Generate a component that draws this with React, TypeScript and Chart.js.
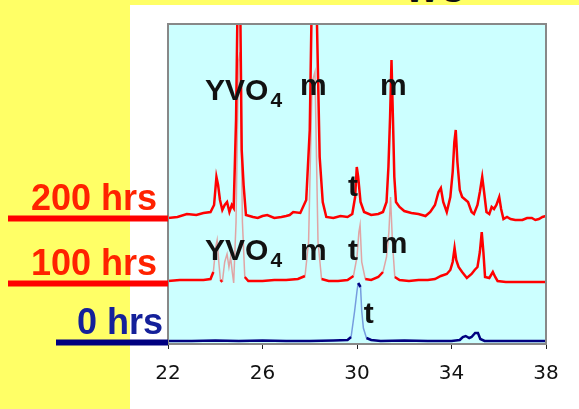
import React, { useEffect, useRef } from "react";
import { Chart, registerables } from "chart.js";
Chart.register(...registerables);

// 2-theta tick labels
const tickValues = [22, 26, 30, 34, 38];

// series names and vertical offsets (stacked display)
const seriesNames = ["200 hrs", "100 hrs", "0 hrs"];
const seriesOffsets = [127, 62, 3];

// 200 hrs pattern
const x200 = [22.0,22.4,22.8,23.2,23.5,23.8,23.95,24.05,24.12,24.2,24.3,24.4,24.5,24.6,24.7,24.78,24.88,24.97,25.03,25.12,25.2,25.3,25.45,25.6,25.8,26.0,26.2,26.5,26.8,27.0,27.15,27.3,27.6,27.85,28.0,28.1,28.2,28.3,28.42,28.55,28.7,29.0,29.3,29.6,29.8,29.92,29.99,30.05,30.15,30.3,30.6,30.9,31.1,31.25,31.33,31.4,31.46,31.52,31.58,31.65,31.8,32.0,32.3,32.6,32.9,33.1,33.3,33.45,33.55,33.65,33.8,33.95,34.05,34.12,34.18,34.25,34.35,34.45,34.55,34.7,34.85,34.95,35.1,35.2,35.3,35.38,35.48,35.6,35.7,35.8,35.9,36.02,36.1,36.2,36.35,36.5,36.7,37.0,37.2,37.4,37.55,37.7,37.85,38.0];
const y200 = [-1,0,3,2,4,5,12,40,32,17,7,12,15,5,12,9,97,260,280,67,32,2,1,0,-1,1,2,-1,0,1,2,5,4,17,87,240,260,200,60,15,0,-1,1,0,3,20,50,40,15,5,2,3,5,15,50,100,157,100,40,15,10,6,4,3,1,5,12,25,29,15,5,20,45,75,87,55,27,20,18,15,5,3,12,25,40,25,5,3,10,8,12,20,8,-2,0,-2,-3,-3,-1,-1,-3,-2,0,1];

// 100 hrs pattern
const x100 = [22.0,22.5,23.0,23.5,23.8,23.92,24.02,24.08,24.15,24.22,24.3,24.4,24.5,24.58,24.65,24.72,24.78,24.88,24.98,25.05,25.15,25.25,25.4,26.0,26.5,27.0,27.5,27.8,27.95,28.1,28.22,28.35,28.5,28.8,29.2,29.6,29.85,30.0,30.08,30.13,30.2,30.35,30.6,30.9,31.1,31.25,31.35,31.42,31.5,31.6,31.8,32.2,32.6,33.0,33.3,33.55,33.8,33.95,34.05,34.13,34.2,34.3,34.45,34.65,34.85,34.98,35.1,35.2,35.28,35.35,35.42,35.6,35.75,35.85,35.95,36.3,36.8,37.3,38.0];
const y100 = [1,2,2,2,3,10,35,42,20,2,0,20,28,15,25,10,-1,60,220,230,60,5,1,1,2,2,3,6,40,200,210,40,3,1,1,2,6,25,50,57,20,3,2,5,10,25,50,85,40,5,2,1,2,2,3,6,8,12,20,34,22,15,10,4,8,12,15,30,50,30,5,4,10,5,1,0,0,0,0];

// 0 hrs pattern
const x0 = [22,23,24,25,26,27,28,29,29.6,29.75,29.9,30.0,30.05,30.15,30.2,30.27,30.4,30.6,31,32,33,34,34.35,34.48,34.6,34.75,34.85,35.0,35.12,35.22,35.4,36,37,38];
const y0 = [0,0,0.5,0,0.5,0,0,0.5,1,4,30,50,58,54,30,13,3,1,0,0.5,0,0,1,4,5,3,4,8,8,2,0,0,0,0];

// peak annotations
const annText = ["YVO", "m", "m", "t", "YVO", "m", "t", "m", "t"];
const annSub = ["4", "", "", "", "4", "", "", "", ""];
const annX = [23.57, 27.59, 30.97, 29.62, 23.57, 27.59, 29.62, 31.0, 30.29];
const annY = [244, 249, 249, 148, 84, 84, 84, 91, 21];

const BOLD = '"Liberation Sans", Arial, sans-serif';

function zip(xs: number[], ys: number[], off: number) {
  return xs.map((x, i) => ({ x, y: ys[i] + off }));
}

function steepStyle(xs: number[], xLimit: number, solid: string, pale: string, wSolid: number, wPale: number) {
  const isSteep = (ctx: any) => {
    const dx = Math.abs(ctx.p1.x - ctx.p0.x);
    const dy = Math.abs(ctx.p1.y - ctx.p0.y);
    return dy > 6 && dy > 2.5 * dx && xs[ctx.p1DataIndex] < xLimit;
  };
  return {
    borderColor: (ctx: any) => (isSteep(ctx) ? pale : solid),
    borderWidth: (ctx: any) => (isSteep(ctx) ? wPale : wSolid),
  };
}

const decor = {
  id: "decor",
  beforeDraw(chart: any) {
    const { ctx, chartArea: a } = chart;
    ctx.save();
    ctx.fillStyle = "#ccffff";
    ctx.fillRect(a.left, a.top, a.right - a.left, a.bottom - a.top);
    ctx.restore();
  },
  afterDraw(chart: any) {
    const { ctx, chartArea: a, scales } = chart;
    const xs = scales.x;
    const ys = scales.y;
    ctx.save();
    ctx.strokeStyle = "#888888";
    ctx.lineWidth = 2;
    ctx.strokeRect(a.left, a.top, a.right - a.left, a.bottom - a.top);

    // series labels with lead lines
    const lineColors = ["#ff0000", "#ff0000", "#000080"];
    const textColors = ["#ff2200", "#ff2200", "#14209a"];
    const lineStart = [8, 8, 56];
    const textRight = [157, 157, 163];
    for (let i = 0; i < seriesNames.length; i++) {
      const yp = ys.getPixelForValue(seriesOffsets[i]) + 1.5;
      ctx.strokeStyle = lineColors[i];
      ctx.lineWidth = 6;
      ctx.beginPath();
      ctx.moveTo(lineStart[i], yp);
      ctx.lineTo(a.left, yp);
      ctx.stroke();
      ctx.fillStyle = textColors[i];
      ctx.font = `bold 36px ${BOLD}`;
      ctx.textAlign = "right";
      ctx.textBaseline = "alphabetic";
      ctx.fillText(seriesNames[i], textRight[i], yp - 9);
    }

    // peak annotations
    ctx.fillStyle = "#111111";
    ctx.textAlign = "left";
    ctx.textBaseline = "alphabetic";
    for (let i = 0; i < annText.length; i++) {
      const px = xs.getPixelForValue(annX[i]);
      const py = ys.getPixelForValue(annY[i]);
      ctx.font = `bold 30px ${BOLD}`;
      ctx.fillText(annText[i], px, py);
      if (annSub[i]) {
        const w = ctx.measureText(annText[i]).width;
        ctx.font = `bold 21px ${BOLD}`;
        ctx.fillText(annSub[i], px + w + 2, py + 7);
      }
    }
    ctx.restore();
  },
};

export default function App() {
  const ref = useRef<HTMLCanvasElement | null>(null);
  useEffect(() => {
    if (!ref.current) return;
    const chart = new Chart(ref.current, {
      type: "line",
      data: {
        datasets: [
          {
            label: seriesNames[0],
            data: zip(x200, y200, seriesOffsets[0]),
            borderColor: "#ff0000",
            borderWidth: 2.5,
            pointRadius: 0,
            tension: 0,
          },
          {
            label: seriesNames[1],
            data: zip(x100, y100, seriesOffsets[1]),
            borderColor: "#ff0000",
            borderWidth: 2.5,
            pointRadius: 0,
            tension: 0,
            segment: steepStyle(x100, 33, "#ff0000", "rgba(240,90,90,0.55)", 2.5, 1.5),
          },
          {
            label: seriesNames[2],
            data: zip(x0, y0, seriesOffsets[2]),
            borderColor: "#000080",
            borderWidth: 2.5,
            pointRadius: 0,
            tension: 0,
            segment: steepStyle(x0, 33, "#000080", "rgba(60,90,200,0.6)", 2.5, 1.5),
          },
        ],
      },
      options: {
        responsive: false,
        animation: false,
        layout: { padding: { left: 168, right: 33, top: 24, bottom: 20 } },
        plugins: { legend: { display: false }, tooltip: { enabled: false } },
        scales: {
          x: {
            type: "linear",
            min: 22,
            max: 38,
            afterBuildTicks: (s: any) => {
              s.ticks = tickValues.map((v) => ({ value: v }));
            },
            afterFit: (s: any) => {
              s.height = 45;
            },
            ticks: {
              color: "#111111",
              font: { family: '"DejaVu Sans", Verdana, sans-serif', size: 20 },
              padding: 13,
              maxRotation: 0,
            },
            grid: {
              drawOnChartArea: false,
              drawTicks: true,
              tickLength: 5,
              color: "#222222",
            },
            border: { display: false },
          },
          y: {
            display: false,
            min: 0,
            max: 320,
          },
        },
      },
      plugins: [decor],
    });
    return () => chart.destroy();
  }, []);

  return (
    <div
      style={{
        position: "fixed",
        left: 0,
        top: 0,
        width: 579,
        height: 409,
        background: "#ffff66",
        overflow: "hidden",
      }}
    >
      <div
        style={{
          position: "absolute",
          left: 405,
          top: -28,
          fontFamily: BOLD,
          fontWeight: "bold",
          fontSize: 36,
          lineHeight: 1,
          color: "#111",
        }}
      >
        WO
      </div>
      <div
        style={{
          position: "absolute",
          left: 130,
          top: 5,
          right: 0,
          bottom: 0,
          background: "#ffffff",
        }}
      />
      <canvas
        ref={ref}
        width={579}
        height={409}
        style={{ position: "absolute", left: 0, top: 0, width: 579, height: 409 }}
      />
    </div>
  );
}
